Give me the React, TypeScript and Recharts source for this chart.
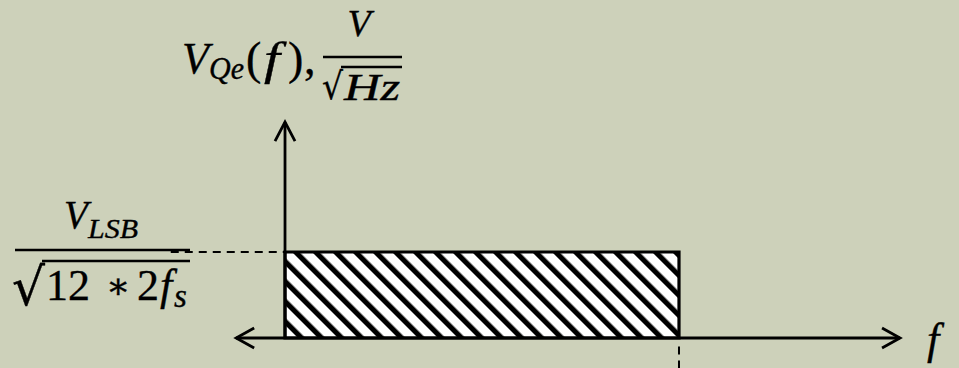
import { ComposedChart, XAxis, YAxis, ReferenceArea, ReferenceLine } from "recharts";

// frequency in units of fs, density in units of V_LSB / sqrt(12*2fs)
const bandEdges = [0, 1];
const noiseLevel = [1];
const fRange = [-0.7234, 1.7107];
const vRange = [-0.3488, 3.93];
// axis arrows
const fAxisEnds = [-0.124, 1.561];
const vAxisTop = [2.51];
// guide from the level label and the dropped fs marker
const levelGuideStart = [-0.29];
const fsGuideRange = [-0.1, -0.3488];

const INK = "#000";
const BG = "#CDD1BA";
const MATH = "'Liberation Serif', 'Times New Roman', serif";
const SYM = "'DejaVu Serif', serif";

const Arrow = (props: any) => {
  const { x1, y1, x2, y2, both, len = 18, half = 10 } = props;
  const dx = x2 - x1;
  const dy = y2 - y1;
  const d = Math.hypot(dx, dy) || 1;
  const ux = dx / d;
  const uy = dy / d;
  const head = (tx: number, ty: number, sx: number, sy: number) =>
    `M${tx - sx * len - sy * half},${ty - sy * len + sx * half}L${tx},${ty}L${tx - sx * len + sy * half},${ty - sy * len - sx * half}`;
  return (
    <g stroke={INK} strokeWidth={2.8} fill="none">
      <line x1={x1} y1={y1} x2={x2} y2={y2} />
      <path d={head(x2, y2, ux, uy)} />
      {both && <path d={head(x1, y1, -ux, -uy)} />}
    </g>
  );
};

// a touch heavier than plain Times, closer to a math font
const ink = { stroke: INK, strokeWidth: 0.35 };
const it = { fontStyle: "italic" as const };

export default function App() {
  return (
    <div style={{ position: "fixed", left: 0, top: 0, width: 959, height: 368, background: BG }}>
      <ComposedChart width={959} height={368} margin={{ top: 0, right: 0, bottom: 0, left: 0 }} data={[]}>
        <defs>
          <pattern id="hatch" patternUnits="userSpaceOnUse" width={14.14} height={14.14} patternTransform="rotate(-45)">
            <rect x={0} y={0} width={14.14} height={14.14} fill="#fff" />
            <rect x={0} y={0} width={5.2} height={14.14} fill={INK} />
          </pattern>
        </defs>
        <XAxis type="number" dataKey="f" domain={fRange} hide allowDataOverflow />
        <YAxis type="number" domain={vRange} hide allowDataOverflow />

        <ReferenceArea
          x1={bandEdges[0]}
          x2={bandEdges[1]}
          y1={0}
          y2={noiseLevel[0]}
          fill="url(#hatch)"
          fillOpacity={1}
          stroke={INK}
          strokeWidth={3.2}
          ifOverflow="visible"
        />

        <ReferenceLine
          segment={[{ x: levelGuideStart[0], y: noiseLevel[0] }, { x: 0, y: noiseLevel[0] }]}
          stroke={INK}
          strokeWidth={2}
          strokeDasharray="8 6"
          ifOverflow="visible"
        />
        <ReferenceLine
          segment={[{ x: bandEdges[1], y: fsGuideRange[0] }, { x: bandEdges[1], y: fsGuideRange[1] }]}
          stroke={INK}
          strokeWidth={2}
          strokeDasharray="8 6"
          ifOverflow="visible"
        />

        <ReferenceLine
          segment={[{ x: fAxisEnds[0], y: 0 }, { x: fAxisEnds[1], y: 0 }]}
          ifOverflow="visible"
          shape={(p: any) => <Arrow {...p} both />}
        />
        <ReferenceLine
          segment={[{ x: 0, y: 0 }, { x: 0, y: vAxisTop[0] }]}
          ifOverflow="visible"
          shape={(p: any) => <Arrow {...p} half={10} len={19} />}
        />

        {/* axis titles */}
        <g fontFamily={MATH} fill={INK} style={ink}>
          <text fontSize={44}>
            <tspan x={182} y={73} style={it}>V</tspan>
            <tspan x={209} y={79} fontSize={31} style={it} textLength={35} lengthAdjust="spacingAndGlyphs">Qe</tspan>
            <tspan x={246} y={74} fontSize={46}>(</tspan>
            <tspan x={264} y={74} fontSize={46} style={it} textLength={16} lengthAdjust="spacingAndGlyphs">f</tspan>
            <tspan x={288} y={74} fontSize={46}>)</tspan>
            <tspan x={304} y={74} fontSize={46}>,</tspan>
          </text>
          <text x={359} y={36} fontSize={38} textAnchor="middle" style={it}>V</text>
          <line x1={323} y1={57} x2={402} y2={57} stroke={INK} strokeWidth={2.4} />
          <text fontSize={38}>
            <tspan x={322} y={99} fontFamily={SYM} fontSize={37} textLength={21} lengthAdjust="spacingAndGlyphs">√</tspan>
            <tspan x={344} y={100} style={it} textLength={56} lengthAdjust="spacingAndGlyphs">Hz</tspan>
          </text>
          <line x1={341} y1={67} x2={402} y2={67} stroke={INK} strokeWidth={2.4} />

          <text fontSize={39}>
            <tspan x={64} y={228} style={it}>V</tspan>
            <tspan x={88} y={238} fontSize={28} style={it} textLength={50} lengthAdjust="spacingAndGlyphs">LSB</tspan>
          </text>
          <line x1={15} y1={250} x2={190} y2={250} stroke={INK} strokeWidth={2.6} />
          <text fontSize={44}>
            <tspan x={12} y={305} fontFamily={SYM} fontSize={52} textLength={33} lengthAdjust="spacingAndGlyphs">√</tspan>
            <tspan x={46} y={300}>12</tspan>
            <tspan x={106} y={298} fontFamily={SYM} fontSize={36}>∗</tspan>
            <tspan x={137} y={300}>2</tspan>
            <tspan x={160} y={300} style={it}>f</tspan>
            <tspan x={174} y={307} fontSize={33} style={it}>s</tspan>
          </text>
          <line x1={42} y1={261} x2={190} y2={261} stroke={INK} strokeWidth={2.6} />

          <text x={927} y={354} fontSize={44} style={it}>f</text>
        </g>
      </ComposedChart>
    </div>
  );
}
